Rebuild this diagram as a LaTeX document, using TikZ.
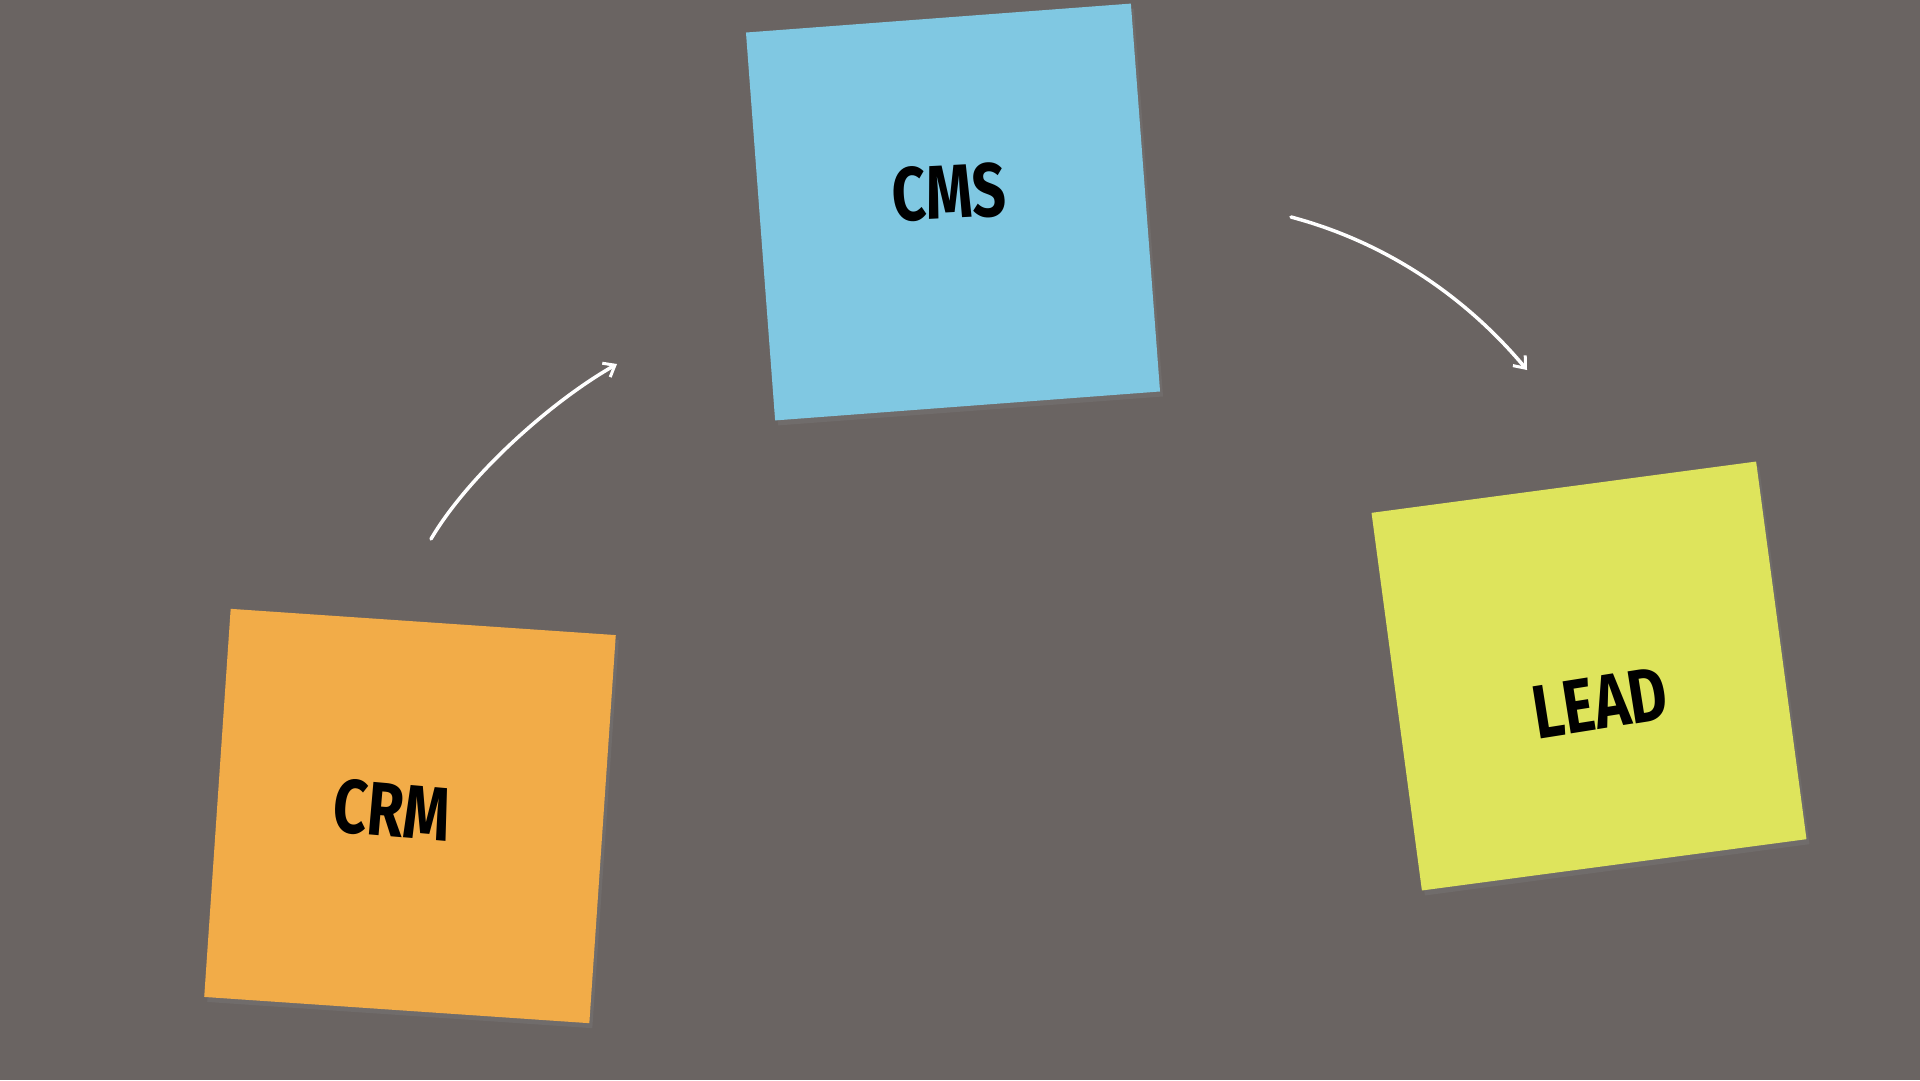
\documentclass[tikz,border=0pt]{standalone}
\usepackage{fontspec}
\setmainfont{Fira Sans}
\usetikzlibrary{arrows.meta,shadows}
\definecolor{boardbg}{RGB}{106,100,98}
\definecolor{noteblue}{RGB}{128,200,226}
\definecolor{noteorange}{RGB}{242,172,72}
\definecolor{noteyellow}{RGB}{222,228,92}
\tikzset{
  note/.style={draw=none, minimum width=386pt, minimum height=389pt, inner sep=0pt,
    drop shadow={opacity=0.3, shadow xshift=3pt, shadow yshift=-5pt}},
  notelabel/.style={font=\fontsize{76}{76}\selectfont\bfseries, text=black, inner sep=0pt},
  flow/.style={draw=white, line width=3.5pt, line cap=round,
    -{Straight Barb[length=10pt, width=16pt, line width=3pt]}}
}
\newcommand{\narrow}[1]{\scalebox{0.78}[1]{#1}}
\begin{document}
\begin{tikzpicture}[x=1pt, y=-1pt]
  \fill[boardbg] (0,0) rectangle (1920,1080);
  \useasboundingbox (0,0) rectangle (1920,1080);
  % sticky notes
  \node[note, fill=noteblue, rotate=4.3] (cms) at (953,212) {};
  \node[note, fill=noteorange, rotate=-3.9] (crm) at (410,816) {};
  \node[note, fill=noteyellow, rotate=7.6, minimum height=381pt, minimum width=388pt] (lead) at (1589,676) {};
  % labels
  \node[notelabel, rotate=3] (cmst) at (949,192) {\narrow{CMS}};
  \node[notelabel, rotate=-5] (crmt) at (392,810) {\narrow{CRM}};
  \node[notelabel, rotate=9] (leadt) at (1600,703) {\narrow{LEAD}};
  % connectors
  \coordinate (a1s) at (431,539);
  \coordinate (a1e) at (617,364);
  \coordinate (a2s) at (1291,217);
  \coordinate (a2e) at (1527,370);
  \draw[flow] (a1s) .. controls (466,479) and (547,404) .. (a1e);
  \draw[flow] (a2s) .. controls (1400,246) and (1477,310) .. (a2e);
\end{tikzpicture}
\end{document}
